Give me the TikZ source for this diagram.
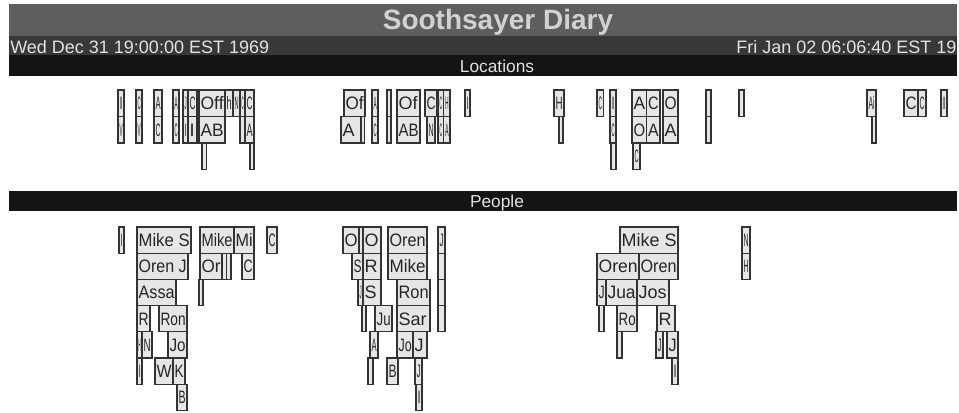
\documentclass[tikz,border=0pt]{standalone}
\usepackage{fontspec}
\setmainfont{Liberation Sans}
\usepackage{graphicx}
\usepackage{tikz}
\usepackage{xcolor}
\definecolor{titlegray}{HTML}{5E5E5E}
\definecolor{dategray}{HTML}{383838}
\definecolor{barblack}{HTML}{141414}
\definecolor{headtext}{HTML}{E2E2E2}
\definecolor{slotfill}{HTML}{E6E6E6}
\definecolor{slotline}{HTML}{333333}

% label squeezed into a given width (pt)
\newsavebox{\evlabel}
\newlength{\evlen}
\newcommand{\evfit}[2]{%
  \sbox{\evlabel}{#2}%
  \setlength{\evlen}{\wd\evlabel}%
  \pgfmathsetmacro{\evscale}{min(1,(#1)/max(\evlen,0.01pt))}%
  \scalebox{\evscale}[1]{\usebox{\evlabel}}}

% one event slot: left, top, right, bottom (pixels), label
\newcommand{\evslot}[5]{%
  \fill[slotfill] (#1,#2) rectangle (#3,#4);
  \begin{scope}
    \clip (#1,#2) rectangle (#3,#4);
    \node[slottext] at (#1,{(#2+#4)/2}) {\evfit{(#3-#1)*0.75-2.2}{#5}};
  \end{scope}
  \draw[slotedge] (#1,#2) rectangle (#3,#4);
}

\begin{document}
\begin{tikzpicture}[x=0.75pt,y=-0.75pt,
  slottext/.style={anchor=west,inner xsep=1pt,inner ysep=0pt,text height=9.7pt,
    text depth=0pt,font=\fontsize{13.5}{15}\selectfont,text=black!85},
  slotedge/.style={draw=slotline,line width=0.9pt},
  headtext/.style={inner sep=0pt,text depth=0pt,text=headtext}]
  \useasboundingbox (0,0) rectangle (959,413);

  % header
  \fill[titlegray] (9,4) rectangle (957,36);
  \fill[dategray] (9,36) rectangle (957,55);
  \fill[barblack] (9,55) rectangle (957,76.5);
  \node[headtext,text height=15pt,font=\fontsize{21}{24}\selectfont\bfseries,
    text=white!82!black] (title) at (498,20) {Soothsayer Diary};
  \node[headtext,anchor=west,text height=9.6pt,font=\fontsize{13.5}{16}\selectfont]
    (startdate) at (10,47.5) {Wed Dec 31 19:00:00 EST 1969};
  \node[headtext,anchor=west,text height=9.6pt,font=\fontsize{13.5}{16}\selectfont]
    (enddate) at (736,47.5) {Fri Jan 02 06:06:40 EST 19};
  \node[headtext,text height=9.3pt,font=\fontsize{13}{15}\selectfont]
    (loclabel) at (497,66.5) {Locations};

  % locations
  \evslot{118}{90}{124}{116.5}{I}
  \evslot{118}{116.5}{124}{143}{V}
  \evslot{136}{90}{142}{116.5}{C}
  \evslot{136}{116.5}{142}{143}{V}
  \evslot{154}{90}{162}{116.5}{A}
  \evslot{154}{116.5}{162}{143}{C}
  \evslot{173}{90}{179}{116.5}{A}
  \evslot{173}{116.5}{179}{143}{C}
  \evslot{183}{90}{188}{116.5}{J}
  \evslot{183}{116.5}{188}{143}{I}
  \evslot{188}{90}{197}{116.5}{C}
  \evslot{188}{116.5}{197}{143}{I}
  \evslot{199}{90}{225}{116.5}{Off}
  \evslot{199}{116.5}{225}{143}{AB}
  \evslot{202}{143}{206.5}{169.5}{}
  \evslot{225}{90}{233}{116.5}{h}
  \evslot{233}{90}{240}{116.5}{N}
  \evslot{240}{90}{245}{116.5}{C}
  \evslot{240}{116.5}{245}{143}{}
  \evslot{245}{90}{254}{116.5}{C}
  \evslot{245}{116.5}{254}{143}{A}
  \evslot{250}{143}{254}{169.5}{}

  \evslot{344}{90}{365}{116.5}{Of}
  \evslot{341}{116.5}{361}{143}{A}
  \evslot{361}{116.5}{364.5}{143}{}
  \evslot{372}{90}{378}{116.5}{A}
  \evslot{372}{116.5}{378}{143}{C}
  \evslot{387}{90}{391}{116.5}{}
  \evslot{387}{116.5}{391}{143}{}
  \evslot{397}{90}{420}{116.5}{Of}
  \evslot{397}{116.5}{420}{143}{AB}
  \evslot{425}{90}{437}{116.5}{C}
  \evslot{427}{116.5}{435}{143}{N}
  \evslot{438}{90}{443.5}{116.5}{C}
  \evslot{438}{116.5}{443.5}{143}{C}
  \evslot{443.5}{90}{450}{116.5}{H}
  \evslot{443.5}{116.5}{450}{143}{A}
  \evslot{465}{90}{470}{116.5}{I}

  \evslot{554}{90}{564}{116.5}{H}
  \evslot{559}{116.5}{563}{143}{}
  \evslot{597}{90}{603.5}{116.5}{C}
  \evslot{610}{90}{616}{116.5}{I}
  \evslot{610}{116.5}{616}{143}{C}
  \evslot{611}{143}{616}{169.5}{}
  \evslot{632}{90}{646.5}{116.5}{A}
  \evslot{632}{116.5}{646.5}{143}{O}
  \evslot{633}{143}{640}{169.5}{C}
  \evslot{646.5}{90}{660}{116.5}{C}
  \evslot{646.5}{116.5}{660}{143}{A}
  \evslot{663}{90}{678}{116.5}{O}
  \evslot{663}{116.5}{678}{143}{A}
  \evslot{706}{90}{711}{116.5}{}
  \evslot{706}{116.5}{711}{143}{}
  \evslot{739}{90}{744}{116.5}{}

  \evslot{867}{90}{876}{116.5}{Ai}
  \evslot{872}{116.5}{876}{143}{}
  \evslot{904}{90}{918}{116.5}{C}
  \evslot{918}{90}{926}{116.5}{C}
  \evslot{941}{90}{947}{116.5}{I}

  % people
  \fill[barblack] (9,191) rectangle (957,211);
  \node[headtext,text height=9.3pt,font=\fontsize{13}{15}\selectfont]
    (peoplelabel) at (497,201) {People};

  \evslot{119}{227}{124}{253.2}{I}
  \evslot{137}{227}{191}{253.2}{Mike S}
  \evslot{137}{253.2}{188}{279.4}{Oren J}
  \evslot{137}{279.4}{176}{305.6}{Assa}
  \evslot{137}{305.6}{150}{331.8}{R}
  \evslot{159}{305.6}{187}{331.8}{Ron}
  \evslot{137}{331.8}{142}{358}{H}
  \evslot{142}{331.8}{152}{358}{N}
  \evslot{168}{331.8}{187}{358}{Jo}
  \evslot{137}{358}{142}{384.2}{I}
  \evslot{155}{358}{173}{384.2}{W}
  \evslot{173}{358}{185}{384.2}{K}
  \evslot{177}{384.2}{187}{410.4}{B}
  \evslot{200}{227}{234}{253.2}{Mike}
  \evslot{234}{227}{254}{253.2}{Mi}
  \evslot{267}{227}{277}{253.2}{C}
  \evslot{200}{253.2}{222}{279.4}{Or}
  \evslot{222}{253.2}{226.5}{279.4}{}
  \evslot{226.5}{253.2}{231}{279.4}{}
  \evslot{242}{253.2}{254}{279.4}{C}
  \evslot{199}{279.4}{203}{305.6}{}

  \evslot{343}{227}{359}{253.2}{O}
  \evslot{359}{227}{363}{253.2}{}
  \evslot{363}{227}{381}{253.2}{O}
  \evslot{388}{227}{427}{253.2}{Oren}
  \evslot{438}{227}{445}{253.2}{J}
  \evslot{438}{253.2}{445}{279.4}{}
  \evslot{438}{279.4}{445}{305.6}{}
  \evslot{438}{305.6}{445}{331.8}{}
  \evslot{352}{253.2}{363}{279.4}{S}
  \evslot{363}{253.2}{381}{279.4}{R}
  \evslot{388}{253.2}{427}{279.4}{Mike}
  \evslot{358}{279.4}{363}{305.6}{J}
  \evslot{363}{279.4}{381}{305.6}{S}
  \evslot{397}{279.4}{430}{305.6}{Ron}
  \evslot{362}{305.6}{366}{331.8}{}
  \evslot{375}{305.6}{392}{331.8}{Ju}
  \evslot{397}{305.6}{430}{331.8}{Sar}
  \evslot{370}{331.8}{378}{358}{A}
  \evslot{397}{331.8}{413}{358}{Jo}
  \evslot{413}{331.8}{427}{358}{J}
  \evslot{368}{358}{373}{384.2}{}
  \evslot{387}{358}{398}{384.2}{B}
  \evslot{415}{358}{422}{384.2}{J}
  \evslot{416}{384.2}{422}{410.4}{I}

  \evslot{620}{227}{678}{253.2}{Mike S}
  \evslot{597}{253.2}{639}{279.4}{Oren}
  \evslot{639}{253.2}{678}{279.4}{Oren}
  \evslot{597}{279.4}{606}{305.6}{J}
  \evslot{606}{279.4}{637}{305.6}{Jua}
  \evslot{637}{279.4}{669}{305.6}{Jos}
  \evslot{599}{305.6}{604}{331.8}{}
  \evslot{617}{305.6}{637}{331.8}{Ro}
  \evslot{657}{305.6}{675}{331.8}{R}
  \evslot{617}{331.8}{622}{358}{}
  \evslot{656}{331.8}{663}{358}{J}
  \evslot{667}{331.8}{678}{358}{J}
  \evslot{672}{358}{678}{384.2}{I}
  \evslot{742}{227}{750}{253.2}{N}
  \evslot{742}{253.2}{750}{279.4}{H}
\end{tikzpicture}
\end{document}
